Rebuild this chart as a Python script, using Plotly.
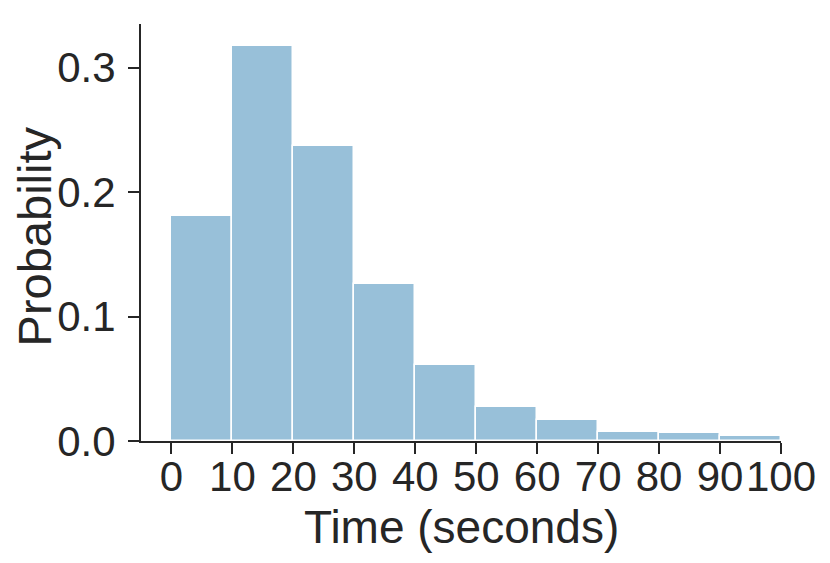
import plotly.graph_objects as go

# Histogram data (bin left edges, bin width, probabilities)
bin_left = [0, 10, 20, 30, 40, 50, 60, 70, 80, 90]
bin_width = 10
probability = [0.181, 0.3174, 0.2372, 0.1262, 0.0613, 0.0271, 0.0170, 0.0071, 0.0063, 0.0039]

x_ticks = [0, 10, 20, 30, 40, 50, 60, 70, 80, 90, 100]
y_ticks = [0.0, 0.1, 0.2, 0.3]
y_tick_labels = ["0.0", "0.1", "0.2", "0.3"]

x_title = "Time (seconds)"
y_title = "Probability"

text_color = "#262626"
font_family = "Liberation Sans, Arial, sans-serif"

fig = go.Figure()
fig.add_trace(go.Bar(
    x=bin_left,
    y=probability,
    width=[bin_width] * len(bin_left),
    offset=0,
    marker=dict(color="rgb(152,192,217)", line=dict(color="white", width=1.5)),
    hoverinfo="x+y",
))

# page has an 8px body margin, so the figure is sized/offset to compensate
fig.update_layout(
    width=822, height=555,
    margin=dict(l=133, r=49, t=16, b=122),
    plot_bgcolor="white", paper_bgcolor="white",
    bargap=0,
    showlegend=False,
    font=dict(family=font_family, color=text_color, size=42),
)

fig.update_xaxes(
    range=[-5, 100],
    tickvals=x_ticks,
    ticktext=[str(v) for v in x_ticks],
    ticks="outside", ticklen=11, tickwidth=2, tickcolor=text_color,
    showline=True, linecolor=text_color, linewidth=2,
    showgrid=False, zeroline=False,
    automargin=False,
    tickfont=dict(size=42, color=text_color),
    ticklabelstandoff=-13,
)
fig.update_yaxes(
    range=[0, 0.335],
    tickvals=y_ticks,
    ticktext=y_tick_labels,
    ticks="outside", ticklen=11, tickwidth=2, tickcolor=text_color,
    showline=True, linecolor=text_color, linewidth=2,
    showgrid=False, zeroline=False,
    automargin=False,
    tickfont=dict(size=42, color=text_color),
    ticklabelstandoff=4,
)

fig.add_annotation(
    text=x_title, xref="paper", yref="paper", x=0.5, y=-0.207,
    xanchor="center", yanchor="middle", showarrow=False,
    font=dict(size=46, color=text_color),
)
fig.add_annotation(
    text=y_title, xref="paper", yref="paper", x=-0.166, y=0.49,
    xanchor="center", yanchor="middle", textangle=-90, showarrow=False,
    font=dict(size=47, color=text_color),
)

fig.write_html("out.html")
